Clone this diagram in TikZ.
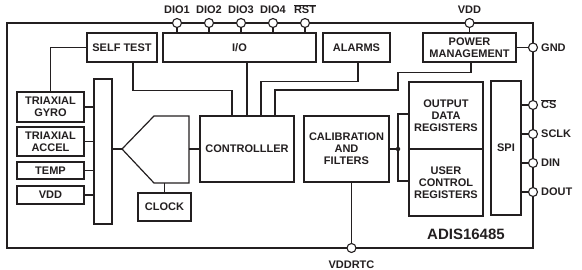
\documentclass[tikz,border=0pt]{standalone}
\usepackage{fontspec}
\setmainfont{Liberation Sans}
\usetikzlibrary{positioning}
\definecolor{Ink}{HTML}{231F20}
\definecolor{PaperCard}{HTML}{FFFFFF}

\begin{document}
\begin{tikzpicture}[x=1pt, y=-1pt,
    blk/.style={draw=Ink, line width=1.2pt, fill=PaperCard, text=Ink, font=\fontsize{11}{12}\selectfont\bfseries, align=center, inner sep=0pt},
    pin/.style={circle, draw=Ink, line width=1.1pt, fill=PaperCard, minimum size=9pt, inner sep=0pt},
    lbl/.style={text=Ink, font=\fontsize{11}{12}\selectfont\bfseries, inner sep=0pt},
    wire/.style={draw=Ink, line width=1.2pt}]
    \useasboundingbox (0,0) rectangle (582,270);
    % chip outline
    \draw[Ink, line width=1.6pt] (7,23) rectangle (533,248);
    % blocks
    \node[blk, minimum width=70pt, minimum height=29pt] (selftest) at (122,47.5) {SELF TEST};
    \node[blk, minimum width=153pt, minimum height=29pt] (io) at (239.5,47.5) {I/O};
    \node[blk, minimum width=67pt, minimum height=29pt] (alarms) at (356.5,47.5) {ALARMS};
    \node[blk, minimum width=93pt, minimum height=29pt] (pwr) at (469.5,47.5) {POWER\\MANAGEMENT};
    \node[blk, minimum width=67pt, minimum height=30pt] (gyro) at (50.5,107) {TRIAXIAL\\GYRO};
    \node[blk, minimum width=67pt, minimum height=29pt] (accel) at (50.5,141.5) {TRIAXIAL\\ACCEL};
    \node[blk, minimum width=67pt, minimum height=17pt] (temp) at (50.5,170.5) {TEMP};
    \node[blk, minimum width=67pt, minimum height=18pt] (vddin) at (50.5,195) {VDD};
    \node[blk, minimum width=18pt, minimum height=145pt] (bar) at (103,151.5) {};
    \node[blk, minimum width=94pt, minimum height=66pt] (ctrl) at (247,149) {CONTROLLLER};
    \node[blk, minimum width=53pt, minimum height=28pt] (clock) at (164.5,207) {CLOCK};
    \node[blk, minimum width=85pt, minimum height=66pt] (cal) at (346.5,149) {CALIBRATION\\AND\\FILTERS};
    \node[blk, minimum width=74pt, minimum height=67pt] (outreg) at (446,115.5) {OUTPUT\\DATA\\REGISTERS};
    \node[blk, minimum width=74pt, minimum height=67pt] (userreg) at (446,182.5) {USER\\CONTROL\\REGISTERS};
    \node[blk, minimum width=30pt, minimum height=134pt] (spi) at (506,148) {SPI};
    % mux
    \draw[wire] (122,149) coordinate (muxtip) -- (154,116) -- (189,116) -- (189,183) -- (154,183) -- cycle;
    \coordinate (muxout) at (189,149);
    \coordinate (muxbot) at (164.5,183);
    \node[circle, fill=Ink, minimum size=4.5pt, inner sep=0pt] (jn) at (398,149) {};
    % pins
    \node[pin] (dio1) at (177,23) {};
    \node[pin] (dio2) at (209,23) {};
    \node[pin] (dio3) at (241,23) {};
    \node[pin] (dio4) at (273,23) {};
    \node[pin] (rst) at (305,23) {};
    \node[pin] (vdd) at (469.5,23) {};
    \node[pin] (gnd) at (533,47.5) {};
    \node[pin] (cs) at (533,105) {};
    \node[pin] (sclk) at (533,134) {};
    \node[pin] (din) at (533,163) {};
    \node[pin] (dout) at (533,192) {};
    \node[pin] (vddrtc) at (351.5,248) {};
    % pin labels
    \node[lbl, anchor=base] (dio1t) at (177,14) {DIO1};
    \node[lbl, anchor=base] (dio2t) at (209,14) {DIO2};
    \node[lbl, anchor=base] (dio3t) at (241,14) {DIO3};
    \node[lbl, anchor=base] (dio4t) at (273,14) {DIO4};
    \node[lbl, anchor=base] (rstt) at (305,14) {$\overline{\mbox{RST}}$};
    \node[lbl, anchor=base] (vddt) at (469.5,14) {VDD};
    \node[lbl, anchor=base west] (gndt) at (541,51.5) {GND};
    \node[lbl, anchor=base west] (cst) at (541,109) {$\overline{\mbox{CS}}$};
    \node[lbl, anchor=base west] (sclkt) at (541,138) {SCLK};
    \node[lbl, anchor=base west] (dint) at (541,167) {DIN};
    \node[lbl, anchor=base west] (doutt) at (541,196) {DOUT};
    \node[lbl, anchor=base] (vddrtct) at (351.5,268) {VDDRTC};
    \node[lbl, anchor=base, font=\fontsize{15}{16}\selectfont\bfseries] (partno) at (466,239) {ADIS16485};
    % wiring
    \foreach \p in {dio1,dio2,dio3,dio4,rst}
      \draw[wire] (\p) -- (\p |- io.north);
    \draw[wire] (vdd) -- (pwr.north);
    \draw[wire] (pwr.east) -- (gnd);
    \draw[wire] (selftest.west) -| (gyro.north);
    \draw[wire] ([xshift=11pt]selftest.south) -- ++(0,28) -| ([xshift=-15pt]ctrl.north);
    \draw[wire] (ctrl.north) -- (ctrl.north |- io.south);
    \draw[wire] ([xshift=1.5pt]alarms.south) -- ++(0,19) -| ([xshift=14pt]ctrl.north);
    \draw[wire] ([xshift=1.5pt]pwr.south) -- ++(0,10) -| (398,90) -| ([xshift=28pt]ctrl.north);
    \foreach \b in {gyro,accel,temp,vddin}
      \draw[wire] (\b.east) -- (\b.east -| bar.west);
    \draw[wire] (bar.east |- muxtip) -- (muxtip);
    \draw[wire] (muxout) -- (ctrl.west);
    \draw[wire] (clock.north) -- (muxbot);
    \draw[wire] (cal.east) -- (jn);
    \draw[wire] (jn) |- ([yshift=1.5pt]outreg.west);
    \draw[wire] (jn) |- ([yshift=1.5pt]userreg.west);
    \draw[wire] (vddrtc) -- (vddrtc |- cal.south);
    \foreach \p in {cs,sclk,din,dout}
      \draw[wire] (\p) -- (\p -| spi.east);
  \end{tikzpicture}
\end{document}
